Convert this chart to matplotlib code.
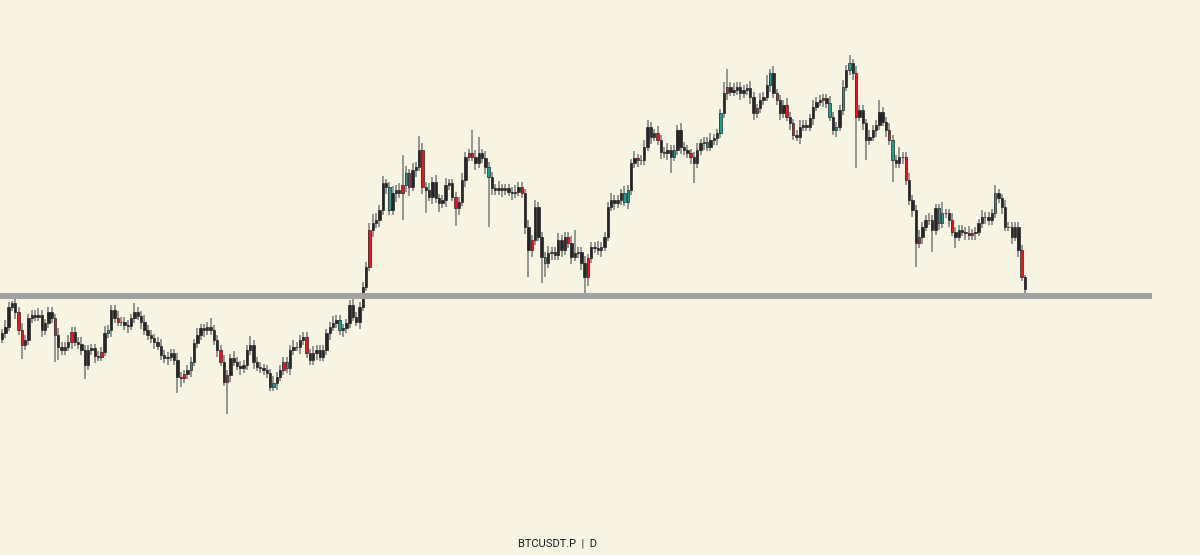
import matplotlib
matplotlib.use("Agg")
import matplotlib.pyplot as plt
import numpy as np

# Closing prices (thousand USDT), oldest -> newest
closes = [
    66.7, 68.1, 72.5, 73.3, 71.4, 67.4, 64.1, 65.2, 70.0, 70.7,
    70.3, 70.7, 67.4, 68.9, 71.4, 70.0, 66.3, 63.7, 63.0, 63.7,
    64.8, 67.0, 64.8, 64.3, 63.0, 59.7, 63.0, 63.4, 61.7, 61.5,
    62.6, 66.7, 67.4, 71.8, 70.0, 69.2, 69.2, 68.5, 68.3, 70.0,
    71.4, 70.5, 69.2, 67.4, 66.3, 65.6, 64.8, 63.9, 61.9, 61.2,
    61.5, 62.3, 60.8, 57.1, 56.8, 57.7, 58.6, 60.4, 64.5, 66.3,
    67.8, 67.4, 68.1, 67.4, 65.2, 63.0, 60.4, 56.0, 57.5, 61.2,
    60.4, 59.5, 59.0, 59.7, 63.0, 64.1, 60.4,
    59.3, 59.0, 58.6, 57.9, 54.9, 55.7, 57.1, 58.6, 60.4, 59.0,
    63.0, 63.7, 63.7, 65.2, 65.9, 62.3, 60.8, 62.3, 63.0, 61.5,
    63.0, 66.7, 68.1, 68.9, 69.6, 67.4, 67.8, 68.9, 72.9, 70.3,
    69.2, 72.5, 76.9, 81.3, 89.4, 90.9, 91.6, 93.8, 99.7, 98.9,
    93.8, 97.5, 98.2, 97.5, 99.3, 101.9, 98.9, 102.6, 103.3, 107.0,
    98.9, 98.2, 96.7, 100.0, 96.4, 95.3, 96.0, 99.3, 99.7, 96.7,
    94.2, 95.6, 100.4, 105.5, 106.3, 105.5, 104.1, 106.3, 105.2, 103.3,
    101.1, 98.6, 98.2, 98.6, 98.2, 98.6, 97.8,
    97.5, 97.8, 98.9, 97.5, 90.1, 85.0, 87.2, 94.5, 87.9, 83.5,
    82.1, 84.3, 84.6, 83.9, 87.2, 85.0, 87.9, 86.5, 83.5, 84.3,
    84.6, 82.1, 79.1, 83.2, 85.7, 85.4, 85.0, 85.7, 87.9, 94.5,
    96.0, 95.3, 96.0, 97.5, 95.6, 98.2, 104.1, 105.2, 104.8, 104.8,
    107.7, 112.1, 109.9, 110.7, 109.2, 106.6, 106.3, 107.0, 105.5, 107.0,
    111.4, 107.7, 107.0, 106.3, 105.5, 104.1, 107.0, 108.5, 108.8, 107.7,
    109.2, 109.6, 110.7, 115.1, 119.5, 120.9, 119.8, 120.2, 120.9, 119.5,
    120.2, 120.6, 118.7, 115.1, 116.2, 118.0, 118.7,
    121.3, 123.9, 119.5, 118.0, 115.1, 116.9, 114.3, 112.9, 110.3, 109.9,
    112.1, 112.5, 112.1, 114.0, 116.5, 117.6, 118.0, 118.4, 117.3, 114.3,
    111.4, 112.1, 115.8, 120.9, 124.6, 126.1, 123.9, 114.3, 115.8, 112.9,
    109.2, 109.9, 111.4, 112.5, 115.4, 113.2, 111.4, 109.2, 104.8, 104.1,
    105.5, 105.5, 100.4, 96.0, 93.8, 86.5, 87.9, 90.1, 91.6, 91.6,
    89.4, 94.2, 90.9, 93.1, 93.1, 91.6, 89.0, 87.9, 89.4, 89.0,
    88.7, 88.3, 88.7, 89.0, 90.9, 92.3, 92.3, 91.6, 93.1, 97.5,
    96.4, 94.5, 90.1, 90.1, 87.9, 90.1, 85.0, 79.1, 76.5,
]
first_open = 65.5

upper_wick = [
    1, 1.5, 1, 0.5, 1, 1, 1.5, 1, 1, 1,
    1, 1.5, 1, 1, 1, 1, 1, 1.5, 1, 1,
    1.5, 1, 1, 1, 1.5, 1, 1, 1, 1, 1,
    1, 1.5, 1, 1, 1, 1.5, 1, 1, 1, 1,
    2, 1, 1, 1.5, 1, 1, 1, 1, 1.5, 1,
    1, 1, 1, 1.5, 1, 1, 1, 1, 1, 1.5,
    1, 1, 1, 2, 1, 1, 1, 1.5, 1, 1,
    1.5, 1, 1, 1, 1, 2, 1, 1, 1, 1,
    1, 1, 1.5, 1, 1, 1, 1, 1, 1.5, 1,
    1, 1, 1, 1, 1.5, 1, 1, 1, 1, 1,
    1.5, 1, 1, 1, 1, 1, 1.5, 1, 1, 1,
    1, 1.5, 2, 1.5, 1, 1.5, 1, 1, 1.5, 1,
    1.5, 6.6, 1.5, 1, 1.5, 1, 3, 1.5, 1, 1.5,
    1, 1.5, 1, 1, 1.5, 1, 1, 1, 1, 1.5,
    1, 1, 5, 1.5, 3.6, 1, 1.5, 1, 1, 1,
    1.5, 1, 1, 1, 1, 1.5, 1, 1, 1, 1.5,
    1, 1.5, 1, 1, 1, 1.5, 1, 1, 1.5, 1,
    1, 1, 1.5, 5, 1, 1, 1.5, 1, 1, 1,
    1.5, 1, 1, 1, 1.5, 1, 1, 1, 1.5, 1,
    1, 1.5, 1, 1, 1.5, 1.5, 1, 1, 1.5, 1,
    1, 1.5, 1, 1, 1, 1.5, 1, 1, 1, 1,
    1.5, 1, 1, 1, 1.5, 1, 1, 1, 2.5, 4,
    1, 1.5, 1, 1, 1, 1, 1.5, 1, 1, 1.5,
    1, 2.2, 1, 1.5, 1, 1, 1, 1.5, 1, 1,
    1, 1.5, 1, 1, 1, 1.5, 1, 1, 1, 1,
    1.5, 1, 1, 1, 1.5, 1, 1.8, 1, 1.5, 1,
    1, 1, 1.5, 1, 1, 2.6, 1, 1, 1.5, 1,
    1, 2.2, 1, 1, 1.5, 1, 1, 1.5, 1, 1,
    1.5, 1, 1, 1, 2.5, 1, 1, 1.5, 1, 1,
    1, 1, 1.5, 1, 1, 1, 1.5, 1, 1, 1,
    1.8, 1, 1, 1.5, 1, 1, 1, 1, 1, 0.5,
]
lower_wick = [
    1, 1, 1, 1, 1.5, 1, 3, 1, 1, 1,
    1, 1, 1.5, 1, 1, 1, 6, 3, 1, 1,
    1, 1.5, 1, 1, 1, 3, 1, 1, 1.5, 1,
    1, 1, 1, 1.5, 1, 1, 1, 1, 1.5, 1,
    1, 1, 1.5, 1, 1, 1, 1.5, 1, 1, 1,
    1.5, 1, 1, 3.5, 2, 1, 1, 1.5, 1, 1,
    1, 1.5, 1, 1, 1, 1.5, 1, 1, 7, 1.5,
    1, 1, 1.5, 1, 1, 1, 1.5, 1, 1, 1,
    1, 1, 1, 1.5, 1, 1, 1, 1.5, 1, 1,
    1.5, 1, 1, 1, 1, 1.5, 1, 1, 1, 1.5,
    1, 1, 1, 1.5, 1, 1, 1, 1, 1.5, 1,
    1, 1, 1.5, 1, 1.5, 1, 1.5, 1.1, 1, 2,
    1, 6, 1.5, 2, 1, 1.5, 1, 1.5, 5, 1,
    1.5, 1, 2, 1, 1.5, 1, 1, 4, 1.5, 1,
    1.5, 1, 1, 1.5, 1, 1, 1.5, 11, 1.5, 1,
    1, 1.5, 1, 1, 1.5, 1, 1, 1, 1.5, 6,
    1.5, 1, 1, 5.8, 3, 1, 1.5, 1, 1, 1.5,
    1, 1, 1.5, 1, 1, 1.5, 3.6, 2, 1, 1,
    1, 1.5, 1, 1, 1, 1.5, 1, 1, 1, 1.5,
    1, 1, 1.5, 1, 1, 1, 1.5, 1, 1, 1.5,
    1, 1.5, 3.6, 1, 1, 1.5, 1, 1, 1.5, 4.4,
    1, 1, 1.5, 1, 1, 1, 1.5, 1, 1, 1.5,
    1, 1, 1, 1.5, 1, 1, 1.5, 1.5, 1, 1,
    1, 1, 1.5, 1, 1, 1.5, 1, 1, 1.5, 1,
    1, 1.5, 1, 1, 1, 1.5, 1, 1, 1.5, 1,
    1, 1, 1.5, 1, 1, 1, 1, 1.5, 11.3, 1,
    1.5, 4.4, 1, 1, 1.5, 1, 1, 1.5, 1, 4.8,
    1, 1, 1.5, 1, 1, 1.5, 5.2, 1, 1.5, 1,
    1, 4.8, 1, 1.5, 1, 1, 1.5, 1, 2.5, 1,
    1, 1.5, 1, 1, 1.5, 1, 1, 1.5, 1, 1,
    1, 1, 1.5, 1, 1, 1.5, 1, 1.5, 1, 1,
]

red_idx = [5, 6, 16, 21, 30, 35, 55, 66, 68, 85, 92, 111, 121, 123, 127, 137,
           141, 142, 157, 160, 166, 171, 177, 192, 198, 208, 219, 228, 234, 237,
           239, 248, 258, 268, 272, 273, 277, 287, 293, 304, 308]
teal_idx = [32, 57, 82, 86, 102, 117, 122, 147, 164, 188, 189, 203, 213, 217,
            232, 250, 252, 254, 256, 269, 283, 284, 300]

support_level = 74.9
title = "BTCUSDT.P  |  D"

# ---- drawing ----
bg = "#f8f4e4"
body_col = "#262626"
wick_col = "#7a7a7a"
red_col = "#f0131e"
teal_col = "#1f9e8e"

c = np.array(closes)
o = np.concatenate([[first_open], c[:-1]])
hi = np.maximum(o, c) + np.array(upper_wick)
lo = np.minimum(o, c) - np.array(lower_wick)
n = len(c)
x = np.arange(n)

fig = plt.figure(figsize=(12, 5.55), dpi=100, facecolor=bg)
ax = fig.add_axes([0, 0, 1, 1], facecolor=bg)

px = 1023 / (n - 1)  # pixels per candle
ax.set_xlim(-2 / px, (1200 - 2) / px)
ax.set_ylim(140 - 0.22 * 555, 140)

colors = [body_col] * n
for i in red_idx:
    colors[i] = red_col
for i in teal_idx:
    colors[i] = teal_col

ax.vlines(x, lo, hi, color=wick_col, linewidth=1.3, alpha=0.85, zorder=2)
bottom = np.minimum(o, c)
height = np.abs(c - o)
ax.bar(x, height, bottom=bottom, width=0.72, color=colors,
       edgecolor=body_col, linewidth=0.5, zorder=3)

ax.hlines(support_level, -2 / px, (1152 - 2) / px, color="#a2a2a2",
          linewidth=4.4, zorder=4)

ax.set_axis_off()
fig.text(557 / 1200, 1 - 544 / 555, title, ha="center", va="center",
         fontsize=8, family=["Roboto", "DejaVu Sans"], color="#1a1a1a")

fig.savefig("out.png", dpi=100, facecolor=bg)
